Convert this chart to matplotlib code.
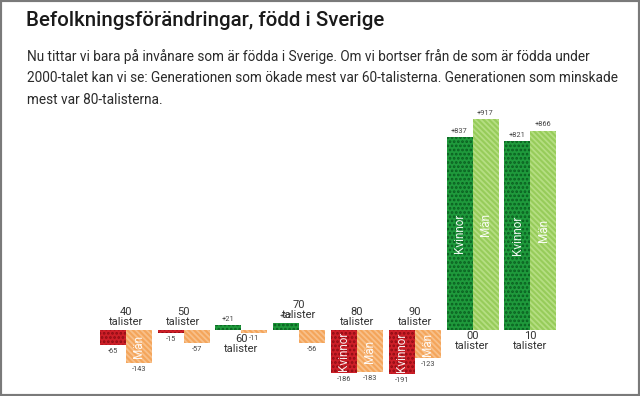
import matplotlib.pyplot as plt
from matplotlib.patches import Rectangle

plt.rcParams['font.family'] = ['Roboto', 'DejaVu Sans']
plt.rcParams['hatch.linewidth'] = 1.3

# data (thousands of people, change per decade of birth)
decades = ['40', '50', '60', '70', '80', '90', '00', '10']
kvinnor = [-65, -15, 21, 32, -186, -191, 837, 821]
man = [-143, -57, -11, -56, -183, -123, 917, 866]

title = 'Befolkningsförändringar, född i Sverige'
intro = ['Nu tittar vi bara på invånare som är födda i Sverige. Om vi bortser från de som är födda under',
         '2000-talet kan vi se: Generationen som ökade mest var 60-talisterna. Generationen som minskade',
         'mest var 80-talisterna.']

# fill / hatch colours
kv_pos = ('#1f9a3c', '#0a5e20')
kv_neg = ('#cd1f28', '#8e0c14')
ma_pos = ('#97cc5a', '#b5de82')
ma_neg = ('#f4a55b', '#f8c08a')

W, H = 640, 396
fig = plt.figure(figsize=(W / 100, H / 100), dpi=100)
fig.patch.set_facecolor('white')

# axes fill the whole figure, limits chosen so bars land where they should
step = 57.8      # px between groups
x0 = 125.7       # px of first group centre
base = 330       # px from top of the zero line
scale = 0.2302   # px per unit
ax = fig.add_axes([0, 0, 1, 1])
ax.set_xlim(-x0 / step, (W - x0) / step)
ax.set_ylim(-(H - base) / scale, base / scale)
ax.axis('off')

w = 26 / step
xs = list(range(len(decades)))

kb = ax.bar([x - w / 2 for x in xs], kvinnor, width=w, lw=0)
mb = ax.bar([x + w / 2 for x in xs], man, width=w, lw=0)
for p, v in zip(kb, kvinnor):
    fc, hc = kv_pos if v > 0 else kv_neg
    p.set_facecolor(fc)
    p.set_edgecolor(hc)
    p.set_hatch('....')
for p, v in zip(mb, man):
    fc, hc = ma_pos if v > 0 else ma_neg
    p.set_facecolor(fc)
    p.set_edgecolor(hc)
    p.set_hatch('\\' * 6)

# value labels
for bars, vals in ((kb, kvinnor), (mb, man)):
    for p, v in zip(bars, vals):
        cx = p.get_x() + p.get_width() / 2
        off = 4.2 if v > 0 else -4.6
        ax.annotate(f'{v:+d}', (cx, v), xytext=(0, off), textcoords='offset points',
                    ha='center', va='center', fontsize=5.3, color='#444444')

# decade labels, on the side opposite to the bars
for i, d in enumerate(decades):
    top = max(kvinnor[i], man[i], 0)
    bot = min(kvinnor[i], man[i], 0)
    if kvinnor[i] + man[i] < 0:
        ax.annotate(f'{d}\ntalister', (i, top), xytext=(0, 2), textcoords='offset points',
                    ha='center', va='bottom', fontsize=8, linespacing=1.0, color='#333333')
    else:
        ax.annotate(f'{d}\ntalister', (i, bot), xytext=(0, -1), textcoords='offset points',
                    ha='center', va='top', fontsize=8, linespacing=1.0, color='#333333')

# names inside the bars, only where they fit
fig.canvas.draw()
r = fig.canvas.get_renderer()
for bars, name in ((kb, 'Kvinnor'), (mb, 'Män')):
    for p in bars:
        cx = p.get_x() + p.get_width() / 2
        cy = p.get_y() + p.get_height() / 2
        t = ax.text(cx, cy, name, rotation=90, ha='center', va='center',
                    fontsize=8.5, color='white', alpha=0.92)
        if t.get_window_extent(r).height > p.get_window_extent(r).height - 2:
            t.remove()

fig.text(26 / W, 1 - 20 / H, title, fontsize=14.8, weight='medium', color='#1a1a1a', va='center')
for k, line in enumerate(intro):
    fig.text(27 / W, 1 - (57 + 21.5 * k) / H, line, fontsize=9.85, color='#2a2a2a', va='center')

fig.add_artist(Rectangle((0, 0), 1, 1, transform=fig.transFigure, fill=False,
                         edgecolor='#7a7a7a', lw=3))

fig.savefig('out.png', dpi=100)
